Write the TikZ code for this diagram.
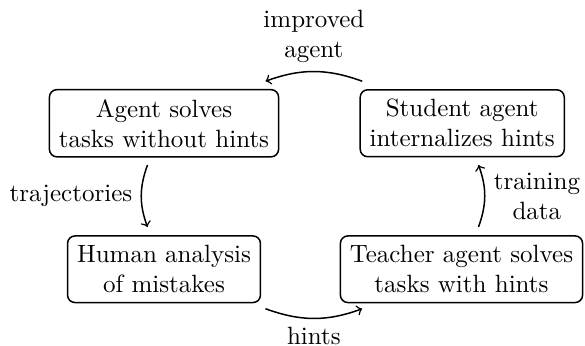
\documentclass[tikz,border=0pt]{standalone}
\begin{document}
\begin{tikzpicture}[
  box/.style={draw, rounded corners=3pt, semithick, align=center, inner sep=3.8pt},
  flow/.style={->, semithick},
  lbl/.style={align=center}
]
\useasboundingbox (0,0) rectangle (234pt,-138.4pt);
\node[box] (A) at (65.6pt,-49.3pt) {Agent solves\\tasks without hints};
\node[box] (S) at (184.9pt,-49.3pt) {Student agent\\internalizes hints};
\node[box] (H) at (65.6pt,-107.7pt) {Human analysis\\of mistakes};
\node[box] (T) at (184.6pt,-107.7pt) {Teacher agent solves\\tasks with hints};
% arrow end points
\coordinate (ia) at (144.9pt,-32.5pt);
\coordinate (ib) at (106.2pt,-32.5pt);
\coordinate (ta) at (59pt,-66pt);
\coordinate (tb) at (59pt,-90.8pt);
\coordinate (ha) at (106.2pt,-123.5pt);
\coordinate (hb) at (144.9pt,-123.5pt);
\coordinate (da) at (191.4pt,-90.8pt);
\coordinate (db) at (191.4pt,-66pt);
\draw[flow] (ia) to[bend right=20] node[lbl, above] {improved\\agent} (ib);
\draw[flow] (ta) to[bend right=20] node[lbl, left] {trajectories} (tb);
\draw[flow] (ha) to[bend right=20] node[lbl, below, inner sep=3pt] {hints} (hb);
\draw[flow] (da) to[bend right=20] node[lbl, right] {training\\data} (db);
\end{tikzpicture}
\end{document}
